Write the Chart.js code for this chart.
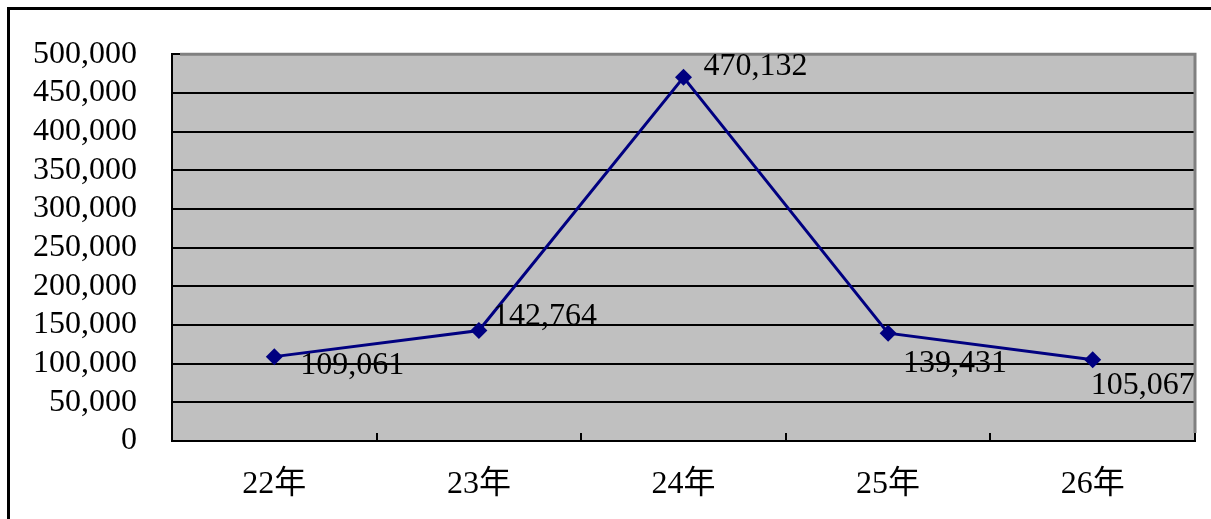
<!DOCTYPE html>
<html>
<head>
<meta charset="utf-8">
<script src="https://cdn.jsdelivr.net/npm/chart.js@4.4.1/dist/chart.umd.min.js"></script>
<style>
  html, body { margin: 0; padding: 0; background: #fff; overflow: hidden; }
  #wrap { position: relative; width: 1211px; height: 519px; }
  #frame {
    position: absolute; left: 7px; top: 7px;
    width: 1300px; height: 600px;
    border: 3px solid #000; box-sizing: border-box;
  }
  #chart { position: absolute; left: 0; top: 0; }
</style>
</head>
<body>
<div id="wrap">
  <div id="frame"></div>
  <canvas id="chart" width="1211" height="519"></canvas>
</div>
<script>
const years = ["22年", "23年", "24年", "25年", "26年"];
const counts = [109061, 142764, 470132, 139431, 105067];
const yMin = 0;
const yMax = 500000;
const yStep = 50000;

// where each value label sits relative to its point (dx, dy)
const labelOffsets = [
  [26, 9],
  [14, -14],
  [20, -11],
  [15, 30],
  [-2, 26],
];

const FONT = '"Liberation Serif", "Noto Sans CJK JP", serif';
const FONT_SIZE = 32;
const fmt = (v) => v.toLocaleString("en-US");

// gray plot background, inner category ticks, gray top/right edge
const plotArea = {
  id: "plotArea",
  beforeDraw(chart) {
    const { ctx, chartArea: a } = chart;
    ctx.save();
    ctx.fillStyle = "#c0c0c0";
    ctx.fillRect(a.left, a.top, a.right - a.left, a.bottom - a.top);
    ctx.restore();
  },
  beforeDatasetsDraw(chart) {
    const { ctx, chartArea: a } = chart;
    const x = chart.scales.x;
    ctx.save();
    ctx.strokeStyle = "#808080";
    ctx.lineWidth = 3;
    ctx.beginPath();
    ctx.moveTo(a.left + 8, a.top);
    ctx.lineTo(a.right, a.top);
    ctx.lineTo(a.right, a.bottom - 8);
    ctx.stroke();

    ctx.strokeStyle = "#000";
    ctx.lineWidth = 2;
    ctx.beginPath();
    for (let i = 1; i <= years.length; i++) {
      const px = Math.round(x.getPixelForValue(i - 0.5));
      ctx.moveTo(px, a.bottom);
      ctx.lineTo(px, a.bottom - 8);
    }
    ctx.stroke();
    ctx.restore();
  },
};

const valueLabels = {
  id: "valueLabels",
  afterDatasetsDraw(chart) {
    const { ctx } = chart;
    const meta = chart.getDatasetMeta(0);
    ctx.save();
    ctx.font = FONT_SIZE + "px " + FONT;
    ctx.fillStyle = "#000";
    ctx.textAlign = "left";
    ctx.textBaseline = "middle";
    meta.data.forEach((pt, i) => {
      const [dx, dy] = labelOffsets[i];
      ctx.fillText(fmt(counts[i]), pt.x + dx, pt.y + dy);
    });
    ctx.restore();
  },
};

new Chart(document.getElementById("chart"), {
  type: "line",
  data: {
    labels: years,
    datasets: [
      {
        data: counts,
        borderColor: "#000080",
        backgroundColor: "#000080",
        borderWidth: 3,
        pointStyle: "rectRot",
        pointRadius: 8.5,
        pointBorderWidth: 0,
        tension: 0,
        clip: false,
      },
    ],
  },
  options: {
    responsive: false,
    animation: false,
    layout: { padding: { top: 51, right: 16, left: 0, bottom: 0 } },
    plugins: {
      legend: { display: false },
      tooltip: { enabled: false },
    },
    scales: {
      x: {
        type: "category",
        offset: true,
        grid: { display: false, drawTicks: false },
        border: { display: true, color: "#000", width: 2 },
        ticks: {
          color: "#000",
          font: { family: FONT, size: FONT_SIZE },
          padding: 24,
          maxRotation: 0,
          autoSkip: false,
        },
        afterFit(scale) {
          scale.height = 78;
        },
      },
      y: {
        min: yMin,
        max: yMax,
        grid: {
          color: "#000",
          lineWidth: 2,
          drawTicks: false,
        },
        border: { display: true, color: "#000", width: 2 },
        ticks: {
          stepSize: yStep,
          autoSkip: false,
          color: "#000",
          font: { family: FONT, size: FONT_SIZE },
          padding: 35,
          callback: (v) => fmt(v),
        },
        afterFit(scale) {
          scale.width = 172;
        },
      },
    },
  },
  plugins: [plotArea, valueLabels],
});
</script>
</body>
</html>
